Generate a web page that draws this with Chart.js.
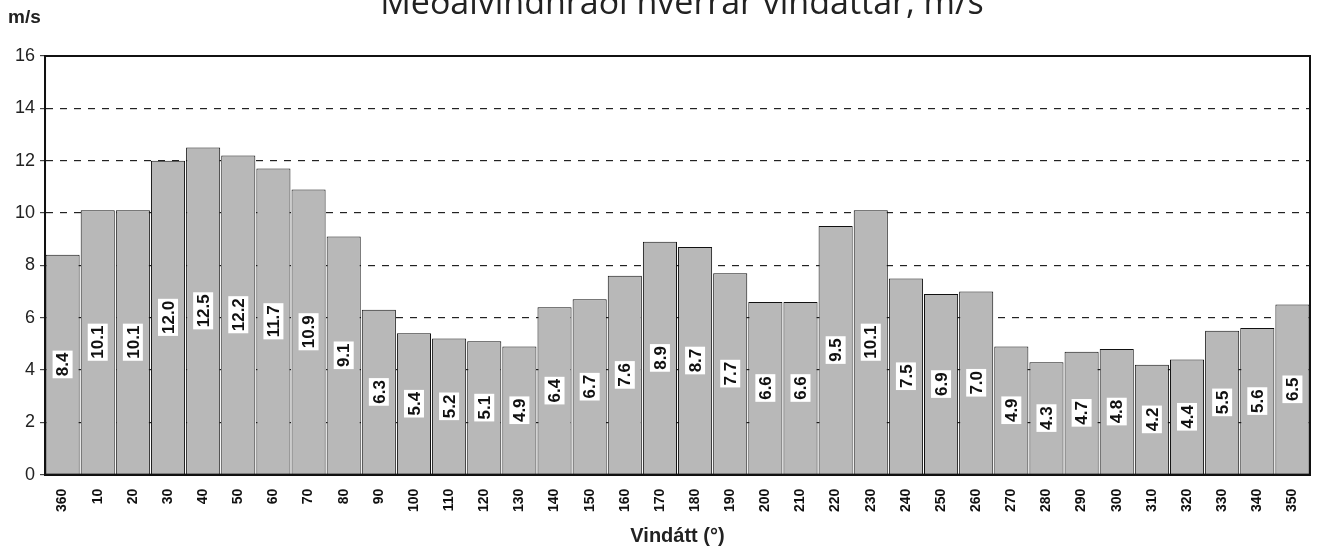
<!DOCTYPE html>
<html>
<head>
<meta charset="utf-8">
<script src="https://cdn.jsdelivr.net/npm/chart.js@4.4.1/dist/chart.umd.min.js"></script>
<style>
  html, body { margin: 0; padding: 0; background: #fff; }
  #wrap { position: relative; width: 1320px; height: 556px; overflow: hidden; }
  #titulo { position: absolute; left: 0; width: 1320px; top: -22px; text-align: center;
            font-family: "Open Sans", sans-serif; font-size: 34px; color: #222; padding-left: 44px; box-sizing: border-box; }
  #unidad { position: absolute; left: 8px; top: 6px; font-family: "Liberation Sans", Arial, sans-serif;
            font-weight: bold; font-size: 19px; color: #222; }
  canvas { position: absolute; left: 0; top: 0; }
</style>
</head>
<body>
<div id="wrap">
  <canvas id="grafico" width="1320" height="556"></canvas>
  <div id="titulo">Meðalvindhraði hverrar vindáttar, m/s</div>
  <div id="unidad">m/s</div>
</div>
<script>
// --- DATOS ---
const direcciones = ["360","10","20","30","40","50","60","70","80","90","100","110","120","130","140","150","160","170","180","190","200","210","220","230","240","250","260","270","280","290","300","310","320","330","340","350"];
const velocidades = [8.4,10.1,10.1,12.0,12.5,12.2,11.7,10.9,9.1,6.3,5.4,5.2,5.1,4.9,6.4,6.7,7.6,8.9,8.7,7.7,6.6,6.6,9.5,10.1,7.5,6.9,7.0,4.9,4.3,4.7,4.8,4.2,4.4,5.5,5.6,6.5];
const ticksY = [0,2,4,6,8,10,12,14,16];

// Etiquetas verticales dentro de cada barra
const etiquetasBarras = {
  id: 'etiquetasBarras',
  afterDatasetsDraw(chart) {
    const ctx = chart.ctx;
    const meta = chart.getDatasetMeta(0);
    ctx.save();
    ctx.font = 'bold 17px "Liberation Sans", Arial, sans-serif';
    ctx.textAlign = 'center';
    ctx.textBaseline = 'middle';
    meta.data.forEach((bar, i) => {
      const txt = velocidades[i].toFixed(1);
      const yMid = (bar.y + bar.base) / 2;
      ctx.save();
      ctx.translate(bar.x, yMid);
      ctx.rotate(-Math.PI / 2);
      const w = ctx.measureText(txt).width;
      ctx.fillStyle = '#fff';
      ctx.fillRect(-w / 2 - 2, -10, w + 4, 20);
      ctx.fillStyle = '#111';
      ctx.fillText(txt, 0, 1);
      ctx.restore();
    });
    ctx.restore();
  }
};

// Marco del área de trazado
const marco = {
  id: 'marco',
  afterDraw(chart) {
    const a = chart.chartArea;
    const ctx = chart.ctx;
    ctx.save();
    ctx.strokeStyle = '#111';
    ctx.lineWidth = 2;
    ctx.strokeRect(a.left, a.top, a.right - a.left, a.bottom - a.top);
    ctx.restore();
  }
};

const ctx = document.getElementById('grafico').getContext('2d');
new Chart(ctx, {
  type: 'bar',
  data: {
    labels: direcciones,
    datasets: [{
      data: velocidades,
      backgroundColor: '#b8b8b8',
      borderColor: '#111',
      borderWidth: 1,
      barPercentage: 0.97,
      categoryPercentage: 1.0
    }]
  },
  plugins: [etiquetasBarras, marco],
  options: {
    responsive: false,
    animation: false,
    layout: { padding: { left: 10, right: 10, top: 56, bottom: 8 } },
    plugins: { legend: { display: false }, tooltip: { enabled: false } },
    scales: {
      x: {
        grid: { display: false, drawTicks: true },
        border: { color: '#111', width: 2 },
        ticks: {
          color: '#111', maxRotation: 90, minRotation: 90, autoSkip: false, padding: 6,
          font: { family: '"Liberation Sans", Arial, sans-serif', size: 14, weight: 'bold' }
        },
        title: {
          display: true, text: 'Vindátt (°)', color: '#222',
          font: { family: '"Liberation Sans", Arial, sans-serif', size: 20, weight: 'bold' },
          padding: { top: 6, bottom: 0 }
        }
      },
      y: {
        min: 0, max: 16,
        afterBuildTicks: (axis) => { axis.ticks = ticksY.map(v => ({ value: v })); },
        grid: {
          color: (c) => (c.tick.value === 0 || c.tick.value === 16) ? 'rgba(0,0,0,0)' : '#222',
          lineWidth: 1.2,
          tickLength: 5,
          tickColor: '#444'
        },
        border: { color: '#111', width: 2, dash: [7, 7] },
        ticks: {
          color: '#222', padding: 5,
          font: { family: '"Liberation Sans", Arial, sans-serif', size: 18 }
        }
      }
    }
  }
});
</script>
</body>
</html>
